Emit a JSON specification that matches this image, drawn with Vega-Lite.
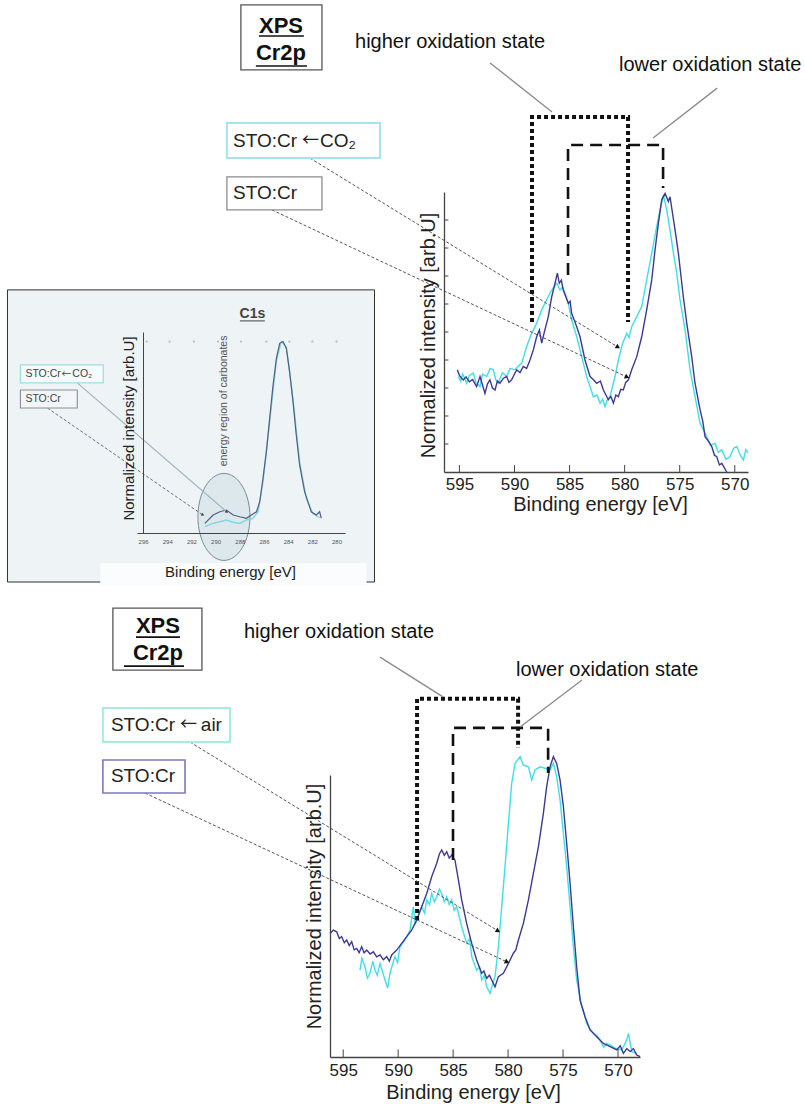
{
"$schema":"https://vega.github.io/schema/vega-lite/v6.json",
"width":805,"height":1108,"autosize":"none","padding":0,"background":"#ffffff",
"config":{"view":{"stroke":null},"font":"Liberation Sans","axis":{"grid":false,"domainColor":"#444","domainWidth":1.3,"labelColor":"#222","titleColor":"#222","titleFontWeight":"normal","labelFont":"Liberation Sans","titleFont":"Liberation Sans"}},
"datasets":{
"top_sto":[{"E":595.19,"v":3.65},{"E":595.0,"v":3.45},{"E":594.8,"v":3.35},{"E":594.65,"v":3.29},{"E":594.4,"v":3.4},{"E":594.1,"v":3.22},{"E":593.8,"v":3.3},{"E":593.44,"v":3.05},{"E":593.13,"v":3.41},{"E":592.9,"v":3.1},{"E":592.68,"v":2.81},{"E":592.45,"v":3.15},{"E":592.23,"v":3.29},{"E":592.0,"v":3.0},{"E":591.77,"v":2.93},{"E":591.55,"v":3.25},{"E":591.32,"v":3.17},{"E":591.0,"v":3.35},{"E":590.71,"v":3.41},{"E":590.5,"v":3.2},{"E":590.26,"v":3.29},{"E":590.0,"v":3.5},{"E":589.8,"v":3.65},{"E":589.5,"v":3.55},{"E":589.2,"v":3.77},{"E":588.9,"v":3.7},{"E":588.59,"v":4.0},{"E":588.29,"v":4.36},{"E":587.99,"v":4.83},{"E":587.74,"v":5.07},{"E":587.53,"v":4.6},{"E":587.32,"v":4.95},{"E":586.93,"v":5.55},{"E":586.62,"v":6.26},{"E":586.32,"v":6.74},{"E":586.11,"v":7.1},{"E":585.93,"v":6.74},{"E":585.75,"v":6.85},{"E":585.57,"v":6.5},{"E":585.11,"v":6.02},{"E":584.95,"v":6.1},{"E":584.81,"v":5.67},{"E":584.35,"v":5.19},{"E":584.05,"v":4.83},{"E":583.6,"v":4.0},{"E":583.14,"v":3.41},{"E":582.85,"v":3.3},{"E":582.54,"v":3.17},{"E":582.2,"v":3.25},{"E":581.93,"v":2.93},{"E":581.7,"v":2.75},{"E":581.48,"v":2.58},{"E":581.25,"v":2.7},{"E":581.02,"v":2.46},{"E":580.8,"v":2.75},{"E":580.57,"v":2.69},{"E":580.35,"v":2.95},{"E":580.12,"v":2.93},{"E":579.9,"v":3.2},{"E":579.66,"v":3.29},{"E":579.36,"v":3.65},{"E":578.9,"v":4.12},{"E":578.45,"v":4.83},{"E":578.0,"v":5.79},{"E":577.54,"v":6.86},{"E":577.24,"v":7.93},{"E":576.94,"v":8.88},{"E":576.63,"v":9.72},{"E":576.33,"v":9.95},{"E":576.03,"v":9.66},{"E":575.88,"v":9.83},{"E":575.42,"v":8.64},{"E":575.12,"v":7.81},{"E":574.67,"v":6.26},{"E":574.36,"v":5.31},{"E":573.91,"v":4.12},{"E":573.61,"v":3.17},{"E":573.15,"v":2.22},{"E":572.9,"v":1.8},{"E":572.7,"v":1.26},{"E":572.4,"v":1.1},{"E":572.09,"v":0.91},{"E":571.85,"v":0.6},{"E":571.64,"v":0.55},{"E":571.4,"v":0.25},{"E":571.18,"v":0.31},{"E":570.73,"v":0.0}],
"top_co2":[{"E":595.1,"v":3.41},{"E":594.9,"v":3.25},{"E":594.7,"v":3.5},{"E":594.35,"v":3.17},{"E":594.1,"v":3.45},{"E":593.74,"v":3.53},{"E":593.5,"v":3.2},{"E":593.13,"v":3.05},{"E":592.9,"v":3.5},{"E":592.53,"v":3.41},{"E":592.2,"v":3.7},{"E":591.92,"v":3.65},{"E":591.7,"v":3.3},{"E":591.47,"v":3.17},{"E":591.1,"v":3.55},{"E":590.71,"v":3.41},{"E":590.4,"v":3.7},{"E":589.96,"v":3.65},{"E":589.6,"v":3.8},{"E":589.35,"v":3.88},{"E":589.1,"v":4.2},{"E":588.9,"v":4.48},{"E":588.44,"v":4.95},{"E":587.99,"v":5.31},{"E":587.53,"v":5.79},{"E":587.08,"v":6.15},{"E":586.62,"v":6.5},{"E":586.17,"v":6.74},{"E":585.87,"v":6.5},{"E":585.65,"v":6.6},{"E":585.41,"v":6.38},{"E":585.11,"v":6.02},{"E":584.81,"v":5.43},{"E":584.35,"v":4.83},{"E":583.9,"v":4.12},{"E":583.45,"v":3.41},{"E":583.1,"v":3.0},{"E":582.84,"v":2.69},{"E":582.5,"v":2.75},{"E":582.23,"v":2.46},{"E":582.0,"v":2.6},{"E":581.78,"v":2.34},{"E":581.55,"v":2.6},{"E":581.33,"v":2.69},{"E":580.87,"v":3.41},{"E":580.57,"v":4.0},{"E":580.18,"v":4.6},{"E":579.81,"v":4.95},{"E":579.6,"v":4.8},{"E":579.36,"v":5.19},{"E":578.9,"v":5.55},{"E":578.45,"v":5.91},{"E":578.0,"v":6.86},{"E":577.54,"v":7.81},{"E":577.15,"v":8.64},{"E":576.79,"v":9.36},{"E":576.48,"v":9.9},{"E":576.18,"v":9.36},{"E":575.88,"v":8.64},{"E":575.57,"v":7.81},{"E":575.27,"v":7.1},{"E":574.97,"v":6.15},{"E":574.51,"v":5.07},{"E":574.06,"v":3.65},{"E":573.61,"v":2.69},{"E":573.15,"v":1.74},{"E":572.85,"v":1.5},{"E":572.55,"v":1.26},{"E":572.2,"v":0.95},{"E":571.79,"v":1.03},{"E":571.5,"v":0.7},{"E":571.18,"v":0.79},{"E":570.8,"v":0.45},{"E":570.43,"v":0.55},{"E":570.1,"v":0.85},{"E":569.82,"v":0.91},{"E":569.5,"v":0.6},{"E":569.22,"v":0.43},{"E":569.0,"v":0.8},{"E":568.8,"v":0.67}],
"bot_sto":[{"E":596.2,"v":4.38},{"E":595.9,"v":4.5},{"E":595.59,"v":4.44},{"E":595.35,"v":4.2},{"E":595.14,"v":4.27},{"E":594.9,"v":4.05},{"E":594.68,"v":4.15},{"E":594.45,"v":3.95},{"E":594.23,"v":4.09},{"E":594.0,"v":3.8},{"E":593.77,"v":3.85},{"E":593.55,"v":3.7},{"E":593.32,"v":3.91},{"E":593.1,"v":3.7},{"E":592.86,"v":3.79},{"E":592.55,"v":3.65},{"E":592.26,"v":3.73},{"E":591.95,"v":3.55},{"E":591.65,"v":3.62},{"E":591.35,"v":3.45},{"E":591.04,"v":3.56},{"E":590.8,"v":3.4},{"E":590.59,"v":3.62},{"E":590.13,"v":3.79},{"E":589.68,"v":4.03},{"E":589.22,"v":4.27},{"E":588.77,"v":4.5},{"E":588.31,"v":4.86},{"E":587.86,"v":5.33},{"E":587.4,"v":5.8},{"E":586.95,"v":6.39},{"E":586.49,"v":6.87},{"E":586.25,"v":7.2},{"E":586.04,"v":7.34},{"E":585.8,"v":7.15},{"E":585.58,"v":7.28},{"E":585.35,"v":7.05},{"E":585.13,"v":7.16},{"E":584.83,"v":6.98},{"E":584.52,"v":6.28},{"E":584.22,"v":5.57},{"E":583.77,"v":4.74},{"E":583.31,"v":4.03},{"E":582.86,"v":3.44},{"E":582.4,"v":2.97},{"E":582.2,"v":3.05},{"E":581.95,"v":2.79},{"E":581.7,"v":2.9},{"E":581.49,"v":2.73},{"E":581.19,"v":2.49},{"E":580.88,"v":2.85},{"E":580.43,"v":2.97},{"E":579.97,"v":3.32},{"E":579.52,"v":3.68},{"E":579.3,"v":3.8},{"E":579.06,"v":4.15},{"E":578.61,"v":4.74},{"E":578.15,"v":5.57},{"E":577.7,"v":6.51},{"E":577.24,"v":7.46},{"E":576.79,"v":8.64},{"E":576.49,"v":9.59},{"E":576.18,"v":10.29},{"E":575.88,"v":10.65},{"E":575.58,"v":10.41},{"E":575.27,"v":9.82},{"E":574.97,"v":8.88},{"E":574.67,"v":7.58},{"E":574.36,"v":6.16},{"E":574.06,"v":4.62},{"E":573.76,"v":3.2},{"E":573.45,"v":2.02},{"E":573.0,"v":1.43},{"E":572.54,"v":0.96},{"E":571.94,"v":0.72},{"E":571.33,"v":0.48},{"E":570.72,"v":0.37},{"E":570.12,"v":0.25},{"E":569.8,"v":0.4},{"E":569.51,"v":0.13},{"E":569.2,"v":0.3},{"E":568.9,"v":0.19},{"E":568.6,"v":0.3},{"E":568.3,"v":0.07},{"E":568.0,"v":0.01}],
"bot_air":[{"E":593.47,"v":3.08},{"E":593.3,"v":3.5},{"E":593.02,"v":3.2},{"E":592.8,"v":2.8},{"E":592.56,"v":2.97},{"E":592.3,"v":3.4},{"E":592.11,"v":3.08},{"E":591.9,"v":2.9},{"E":591.65,"v":3.32},{"E":591.4,"v":3.0},{"E":591.2,"v":2.73},{"E":590.95,"v":2.45},{"E":590.74,"v":2.97},{"E":590.5,"v":3.3},{"E":590.29,"v":3.56},{"E":590.05,"v":3.35},{"E":589.83,"v":3.91},{"E":589.38,"v":4.15},{"E":588.92,"v":4.5},{"E":588.62,"v":5.33},{"E":588.45,"v":4.7},{"E":588.31,"v":4.86},{"E":587.86,"v":5.33},{"E":587.6,"v":5.1},{"E":587.4,"v":5.57},{"E":587.15,"v":5.4},{"E":586.95,"v":5.8},{"E":586.7,"v":5.5},{"E":586.49,"v":5.68},{"E":586.25,"v":5.95},{"E":586.04,"v":5.8},{"E":585.8,"v":5.5},{"E":585.58,"v":5.68},{"E":585.35,"v":5.4},{"E":585.13,"v":5.57},{"E":584.9,"v":5.2},{"E":584.67,"v":5.33},{"E":584.22,"v":4.62},{"E":583.77,"v":4.03},{"E":583.5,"v":4.2},{"E":583.31,"v":3.56},{"E":582.86,"v":3.08},{"E":582.6,"v":3.2},{"E":582.4,"v":2.73},{"E":582.15,"v":2.9},{"E":581.95,"v":2.49},{"E":581.64,"v":2.26},{"E":581.4,"v":2.6},{"E":581.19,"v":2.85},{"E":580.88,"v":3.91},{"E":580.58,"v":5.33},{"E":580.28,"v":6.75},{"E":579.97,"v":8.29},{"E":579.67,"v":9.7},{"E":579.37,"v":10.41},{"E":578.91,"v":10.65},{"E":578.61,"v":10.35},{"E":578.15,"v":10.29},{"E":577.85,"v":9.82},{"E":577.55,"v":10.18},{"E":577.09,"v":10.29},{"E":576.64,"v":10.24},{"E":576.18,"v":10.18},{"E":575.88,"v":10.41},{"E":575.58,"v":9.94},{"E":575.27,"v":9.11},{"E":574.97,"v":7.93},{"E":574.67,"v":6.75},{"E":574.36,"v":5.33},{"E":574.06,"v":3.91},{"E":573.76,"v":2.73},{"E":573.3,"v":1.78},{"E":573.05,"v":1.5},{"E":572.85,"v":1.19},{"E":572.55,"v":1.0},{"E":572.24,"v":0.84},{"E":571.9,"v":0.75},{"E":571.63,"v":0.6},{"E":571.3,"v":0.35},{"E":571.03,"v":0.48},{"E":570.6,"v":0.4},{"E":570.27,"v":0.31},{"E":569.66,"v":0.25},{"E":569.21,"v":0.6},{"E":569.05,"v":0.84},{"E":568.75,"v":0.19},{"E":568.3,"v":0.13}],
"c1s_sto":[{"E":290.89,"v":0.05},{"E":290.2,"v":0.094},{"E":289.65,"v":0.111},{"E":289.1,"v":0.12},{"E":288.55,"v":0.094},{"E":288.0,"v":0.085},{"E":287.45,"v":0.077},{"E":287.04,"v":0.094},{"E":286.62,"v":0.111},{"E":286.35,"v":0.164},{"E":286.08,"v":0.286},{"E":285.8,"v":0.425},{"E":285.53,"v":0.599},{"E":285.25,"v":0.773},{"E":284.97,"v":0.913},{"E":284.7,"v":0.991},{"E":284.43,"v":1.0},{"E":284.15,"v":0.965},{"E":283.88,"v":0.843},{"E":283.6,"v":0.686},{"E":283.33,"v":0.512},{"E":283.05,"v":0.355},{"E":282.64,"v":0.216},{"E":282.09,"v":0.111},{"E":281.67,"v":0.094},{"E":281.4,"v":0.111},{"E":281.26,"v":0.077}],
"c1s_co2":[{"E":290.89,"v":0.033},{"E":290.2,"v":0.05},{"E":289.65,"v":0.059},{"E":289.1,"v":0.068},{"E":288.55,"v":0.056},{"E":288.0,"v":0.05},{"E":287.45,"v":0.068},{"E":286.9,"v":0.077},{"E":286.48,"v":0.111},{"E":286.08,"v":0.27},{"E":285.53,"v":0.58},{"E":284.97,"v":0.9},{"E":284.56,"v":1.0},{"E":284.15,"v":0.97},{"E":283.6,"v":0.7},{"E":283.05,"v":0.37},{"E":282.5,"v":0.18},{"E":281.95,"v":0.1},{"E":281.4,"v":0.08}]
},
"layer":[
{"layer":[
 {"data":{"name":"top_co2"},"mark":{"type":"line","color":"#3fdfe6","strokeWidth":1.4},
  "encoding":{
   "x":{"field":"E","type":"quantitative","scale":{"domain":[568.8,596.4],"range":[748,444],"zero":false,"nice":false},"axis":{"orient":"bottom","zindex":1,"title":"Binding energy [eV]","values":[595,590,585,580,575,570],"ticks":false,"labelFontSize":17,"titleFontSize":20,"offset":-636,"labelPadding":4,"titlePadding":2,"titleX":600}},
   "y":{"field":"v","type":"quantitative","scale":{"domain":[0,10],"range":[472,192],"zero":false,"nice":false},"axis":{"orient":"left","zindex":1,"title":"Normalized intensity [arb.U]","labels":false,"ticks":false,"titleFontSize":20,"offset":-444,"titlePadding":6,"titleY":335}}}},
 {"data":{"name":"top_sto"},"mark":{"type":"line","color":"#3c3a92","strokeWidth":1.4},"encoding":{"x":{"field":"E","type":"quantitative"},"y":{"field":"v","type":"quantitative"}}},
 {"data":{"values":[{"v":1},{"v":2},{"v":3},{"v":4},{"v":5},{"v":6},{"v":7},{"v":8},{"v":9}]},"mark":{"type":"rule","color":"#444","strokeWidth":1},"encoding":{"x":{"datum":596.4,"type":"quantitative"},"x2":{"datum":596.0},"y":{"field":"v","type":"quantitative"}}},
 {"data":{"values":[{"E":595},{"E":590},{"E":585},{"E":580},{"E":575},{"E":570}]},"mark":{"type":"rule","color":"#444","strokeWidth":1},"encoding":{"x":{"field":"E","type":"quantitative"},"y":{"datum":0,"type":"quantitative"},"y2":{"datum":0.25}}},
 {"data":{"values":[{"i":1,"E":588.41,"v":5.36},{"i":2,"E":588.41,"v":12.68},{"i":3,"E":579.69,"v":12.68},{"i":4,"E":579.69,"v":5.36}]},"mark":{"type":"line","color":"#111","strokeWidth":4,"strokeDash":[4,3],"strokeCap":"butt"},"encoding":{"x":{"field":"E","type":"quantitative"},"y":{"field":"v","type":"quantitative"},"order":{"field":"i"}}},
 {"data":{"values":[{"i":1,"E":585.14,"v":7.04},{"i":2,"E":585.14,"v":11.68},{"i":3,"E":576.51,"v":11.68},{"i":4,"E":576.51,"v":10.14}]},"mark":{"type":"line","color":"#111","strokeWidth":2.6,"strokeDash":[12,7],"strokeCap":"butt"},"encoding":{"x":{"field":"E","type":"quantitative"},"y":{"field":"v","type":"quantitative"},"order":{"field":"i"}}},
 {"data":{"values":[{"E":592.22,"v":14.61,"E2":586.59,"v2":12.86},{"E":571.6,"v":13.71,"E2":577.42,"v2":11.93}]},"mark":{"type":"rule","color":"#8a8a8a","strokeWidth":1.3},"encoding":{"x":{"field":"E","type":"quantitative"},"y":{"field":"v","type":"quantitative"},"x2":{"field":"E2"},"y2":{"field":"v2"}}},
 {"data":{"values":[{"E":608.57,"v":11.21,"E2":580.6,"v2":4.46},{"E":612.02,"v":9.36,"E2":579.78,"v2":3.39}]},"mark":{"type":"rule","color":"#555","strokeWidth":1,"strokeDash":[3,2]},"encoding":{"x":{"field":"E","type":"quantitative"},"y":{"field":"v","type":"quantitative"},"x2":{"field":"E2"},"y2":{"field":"v2"}}},
 {"data":{"values":[{"E":580.6,"v":4.46}]},"mark":{"type":"point","shape":"triangle-up","filled":true,"color":"#111","opacity":1,"size":28,"angle":121.5},"encoding":{"x":{"field":"E","type":"quantitative"},"y":{"field":"v","type":"quantitative"}}},
 {"data":{"values":[{"E":579.78,"v":3.39}]},"mark":{"type":"point","shape":"triangle-up","filled":true,"color":"#111","opacity":1,"size":28,"angle":115},"encoding":{"x":{"field":"E","type":"quantitative"},"y":{"field":"v","type":"quantitative"}}},
 {"data":{"values":[{"E":614.84,"v":16.68,"E2":607.48,"v2":14.36}]},"mark":{"type":"rect","fill":"#ffffff","stroke":"#555","strokeWidth":1.3},"encoding":{"x":{"field":"E","type":"quantitative"},"y":{"field":"v","type":"quantitative"},"x2":{"field":"E2"},"y2":{"field":"v2"}}},
 {"data":{"values":[{"E":616.11,"v":12.46,"E2":602.21,"v2":11.21}]},"mark":{"type":"rect","fill":"#ffffff","stroke":"#a6e3ea","strokeWidth":2},"encoding":{"x":{"field":"E","type":"quantitative"},"y":{"field":"v","type":"quantitative"},"x2":{"field":"E2"},"y2":{"field":"v2"}}},
 {"data":{"values":[{"E":616.11,"v":10.54,"E2":607.48,"v2":9.36}]},"mark":{"type":"rect","fill":"#ffffff","stroke":"#8c8c8c","strokeWidth":1.3},"encoding":{"x":{"field":"E","type":"quantitative"},"y":{"field":"v","type":"quantitative"},"x2":{"field":"E2"},"y2":{"field":"v2"}}},
 {"data":{"values":[{"E":611.2,"v":15.68,"t":"XPS"},{"E":611.2,"v":14.71,"t":"Cr2p"}]},"mark":{"type":"text","fontSize":22,"fontWeight":"bold","align":"center","baseline":"alphabetic","color":"#111"},"encoding":{"x":{"field":"E","type":"quantitative"},"y":{"field":"v","type":"quantitative"},"text":{"field":"t"}}},
 {"data":{"values":[{"E":613.2,"v":15.57,"E2":609.12},{"E":613.48,"v":14.5,"E2":608.84}]},"mark":{"type":"rule","color":"#111","strokeWidth":1.6},"encoding":{"x":{"field":"E","type":"quantitative"},"y":{"field":"v","type":"quantitative"},"x2":{"field":"E2"}}},
 {"data":{"values":[{"E":604.48,"v":15.36,"t":"higher oxidation state"},{"E":580.51,"v":14.54,"t":"lower oxidation state"}]},"mark":{"type":"text","fontSize":20,"align":"left","baseline":"middle","color":"#111"},"encoding":{"x":{"field":"E","type":"quantitative"},"y":{"field":"v","type":"quantitative"},"text":{"field":"t"}}},
 {"data":{"values":[{"E":615.56,"v":11.83,"t":"STO:Cr"},{"E":607.66,"v":11.83,"t":"CO₂"},{"E":615.56,"v":9.96,"t":"STO:Cr"}]},"mark":{"type":"text","fontSize":19,"align":"left","baseline":"middle","color":"#222"},"encoding":{"x":{"field":"E","type":"quantitative"},"y":{"field":"v","type":"quantitative"},"text":{"field":"t"}}},
 {"data":{"values":[{"E":609.3,"v":11.83,"t":"←"}]},"mark":{"type":"text","font":"Noto Sans CJK SC","fontSize":17,"align":"left","baseline":"middle","color":"#222"},"encoding":{"x":{"field":"E","type":"quantitative"},"y":{"field":"v","type":"quantitative"},"text":{"field":"t"}}}
]},
{"layer":[
 {"data":{"values":[{"E":307.21,"v":1.27,"E2":276.86,"v2":-0.256}]},"mark":{"type":"rect","fill":"#eef3f6","stroke":"#333","strokeWidth":1},
  "encoding":{"x":{"field":"E","type":"quantitative","scale":{"domain":[279.3,296.5],"range":[345,137],"zero":false,"nice":false}},"y":{"field":"v","type":"quantitative","scale":{"domain":[0,1.05],"range":[533,332],"zero":false,"nice":false}},"x2":{"field":"E2"},"y2":{"field":"v2"}}},
 {"data":{"values":[{"E":299.54,"v":-0.157,"E2":277.52,"v2":-0.275}]},"mark":{"type":"rect","fill":"#fbfcfd"},"encoding":{"x":{"field":"E","type":"quantitative"},"y":{"field":"v","type":"quantitative"},"x2":{"field":"E2"},"y2":{"field":"v2"}}},
 {"data":{"values":[{"E":289.31,"v":0.084}]},"mark":{"type":"point","shape":"M -0.598 0 A 0.598 1 0 1 0 0.598 0 A 0.598 1 0 1 0 -0.598 0 Z","filled":true,"fill":"#c8dce2","fillOpacity":0.45,"stroke":"#7c8c92","strokeWidth":1,"opacity":1,"size":7569},"encoding":{"x":{"field":"E","type":"quantitative"},"y":{"field":"v","type":"quantitative"}}},
 {"data":{"values":[{"E":295.7},{"E":293.8},{"E":291.8},{"E":289.8},{"E":287.9},{"E":285.8},{"E":283.9},{"E":282.0},{"E":280.0}]},"mark":{"type":"point","filled":true,"color":"#b8bcc0","opacity":1,"size":5},"encoding":{"x":{"field":"E","type":"quantitative"},"y":{"datum":1.0,"type":"quantitative"}}},
 {"data":{"name":"c1s_co2"},"mark":{"type":"line","color":"#86d6df","strokeWidth":1.4},
  "encoding":{"x":{"field":"E","type":"quantitative","axis":{"orient":"bottom","zindex":1,"title":"Binding energy [eV]","values":[296,294,292,290,288,286,284,282,280],"ticks":false,"labelFontSize":6,"labelColor":"#555","titleFontSize":15,"offset":-575,"labelPadding":5,"titlePadding":20,"titleX":230,"domainWidth":1}},
   "y":{"field":"v","type":"quantitative","axis":{"orient":"left","zindex":1,"title":"Normalized intensity [arb.U]","labels":false,"ticks":false,"titleFontSize":15,"offset":-143,"titlePadding":7,"titleY":428,"domainWidth":1}}}},
 {"data":{"name":"c1s_sto"},"mark":{"type":"line","color":"#4f6080","strokeWidth":1.2},"encoding":{"x":{"field":"E","type":"quantitative"},"y":{"field":"v","type":"quantitative"}}},
 {"data":{"values":[{"E":301.44,"v":0.784,"E2":289.07,"v2":0.11}]},"mark":{"type":"rule","color":"#9fb4c0","strokeWidth":1.2},"encoding":{"x":{"field":"E","type":"quantitative"},"y":{"field":"v","type":"quantitative"},"x2":{"field":"E2"},"y2":{"field":"v2"}}},
 {"data":{"values":[{"E":303.91,"v":0.653,"E2":291.05,"v2":0.094}]},"mark":{"type":"rule","color":"#6a7078","strokeWidth":1,"strokeDash":[3,2]},"encoding":{"x":{"field":"E","type":"quantitative"},"y":{"field":"v","type":"quantitative"},"x2":{"field":"E2"},"y2":{"field":"v2"}}},
 {"data":{"values":[{"E":289.07,"v":0.11}]},"mark":{"type":"point","shape":"triangle-up","filled":true,"color":"#445","opacity":1,"size":12,"angle":130.7},"encoding":{"x":{"field":"E","type":"quantitative"},"y":{"field":"v","type":"quantitative"}}},
 {"data":{"values":[{"E":291.05,"v":0.094}]},"mark":{"type":"point","shape":"triangle-up","filled":true,"color":"#445","opacity":1,"size":12,"angle":124.4},"encoding":{"x":{"field":"E","type":"quantitative"},"y":{"field":"v","type":"quantitative"}}},
 {"data":{"values":[{"E":306.14,"v":0.878,"E2":299.29,"v2":0.784}]},"mark":{"type":"rect","fill":"#f4fbfc","stroke":"#9fdde3","strokeWidth":1.3},"encoding":{"x":{"field":"E","type":"quantitative"},"y":{"field":"v","type":"quantitative"},"x2":{"field":"E2"},"y2":{"field":"v2"}}},
 {"data":{"values":[{"E":306.14,"v":0.747,"E2":301.44,"v2":0.653}]},"mark":{"type":"rect","fill":"#f3f6f8","stroke":"#8a8f94","strokeWidth":1.1},"encoding":{"x":{"field":"E","type":"quantitative"},"y":{"field":"v","type":"quantitative"},"x2":{"field":"E2"},"y2":{"field":"v2"}}},
 {"data":{"values":[{"E":305.73,"v":0.831,"t":"STO:Cr"},{"E":301.85,"v":0.831,"t":"CO₂"},{"E":305.73,"v":0.70,"t":"STO:Cr"}]},"mark":{"type":"text","fontSize":10.5,"align":"left","baseline":"middle","color":"#444"},"encoding":{"x":{"field":"E","type":"quantitative"},"y":{"field":"v","type":"quantitative"},"text":{"field":"t"}}},
 {"data":{"values":[{"E":302.75,"v":0.831,"t":"←"}]},"mark":{"type":"text","font":"Noto Sans CJK SC","fontSize":9.5,"align":"left","baseline":"middle","color":"#444"},"encoding":{"x":{"field":"E","type":"quantitative"},"y":{"field":"v","type":"quantitative"},"text":{"field":"t"}}},
 {"data":{"values":[{"E":289.31,"v":0.69,"t":"energy region of carbonates"}]},"mark":{"type":"text","fontSize":10.5,"angle":270,"align":"center","baseline":"middle","color":"#555"},"encoding":{"x":{"field":"E","type":"quantitative"},"y":{"field":"v","type":"quantitative"},"text":{"field":"t"}}},
 {"data":{"values":[{"E":286.96,"v":1.123,"t":"C1s"}]},"mark":{"type":"text","fontSize":14,"fontWeight":"bold","align":"center","baseline":"alphabetic","color":"#444"},"encoding":{"x":{"field":"E","type":"quantitative"},"y":{"field":"v","type":"quantitative"},"text":{"field":"t"}}},
 {"data":{"values":[{"E":287.99,"v":1.108,"E2":285.93}]},"mark":{"type":"rule","color":"#444","strokeWidth":1},"encoding":{"x":{"field":"E","type":"quantitative"},"y":{"field":"v","type":"quantitative"},"x2":{"field":"E2"}}}
]},
{"layer":[
 {"data":{"name":"bot_air"},"mark":{"type":"line","color":"#3fdfe6","strokeWidth":1.4},
  "encoding":{
   "x":{"field":"E","type":"quantitative","scale":{"domain":[568.0,596.2],"range":[640,330],"zero":false,"nice":false},"axis":{"orient":"bottom","zindex":1,"title":"Binding energy [eV]","values":[595,590,585,580,575,570],"ticks":false,"labelFontSize":17,"titleFontSize":20,"offset":-51,"labelPadding":5,"titlePadding":4,"titleX":473}},
   "y":{"field":"v","type":"quantitative","scale":{"domain":[0,10],"range":[1057,775],"zero":false,"nice":false},"axis":{"orient":"left","zindex":1,"title":"Normalized intensity [arb.U]","labels":false,"ticks":false,"titleFontSize":20,"offset":-330,"titlePadding":6,"titleY":906}}}},
 {"data":{"name":"bot_sto"},"mark":{"type":"line","color":"#3c3a92","strokeWidth":1.4},"encoding":{"x":{"field":"E","type":"quantitative"},"y":{"field":"v","type":"quantitative"}}},
 {"data":{"values":[{"E":595},{"E":590},{"E":585},{"E":580},{"E":575},{"E":570}]},"mark":{"type":"rule","color":"#444","strokeWidth":1},"encoding":{"x":{"field":"E","type":"quantitative"},"y":{"datum":0,"type":"quantitative"},"y2":{"datum":0.27}}},
 {"data":{"values":[{"i":1,"E":588.28,"v":4.86},{"i":2,"E":588.28,"v":12.7},{"i":3,"E":579.09,"v":12.7},{"i":4,"E":579.09,"v":10.96}]},"mark":{"type":"line","color":"#111","strokeWidth":4,"strokeDash":[4,3],"strokeCap":"butt"},"encoding":{"x":{"field":"E","type":"quantitative"},"y":{"field":"v","type":"quantitative"},"order":{"field":"i"}}},
 {"data":{"values":[{"i":1,"E":585.01,"v":6.99},{"i":2,"E":585.01,"v":11.67},{"i":3,"E":576.36,"v":11.67},{"i":4,"E":576.36,"v":10.07}]},"mark":{"type":"line","color":"#111","strokeWidth":2.6,"strokeDash":[12,7],"strokeCap":"butt"},"encoding":{"x":{"field":"E","type":"quantitative"},"y":{"field":"v","type":"quantitative"},"order":{"field":"i"}}},
 {"data":{"values":[{"E":591.65,"v":14.18,"E2":585.92,"v2":12.77},{"E":573.27,"v":13.37,"E2":578.91,"v2":11.7}]},"mark":{"type":"rule","color":"#8a8a8a","strokeWidth":1.3},"encoding":{"x":{"field":"E","type":"quantitative"},"y":{"field":"v","type":"quantitative"},"x2":{"field":"E2"},"y2":{"field":"v2"}}},
 {"data":{"values":[{"E":608.94,"v":11.17,"E2":580.91,"v2":4.47},{"E":613.03,"v":9.36,"E2":580.09,"v2":3.37}]},"mark":{"type":"rule","color":"#555","strokeWidth":1,"strokeDash":[3,2]},"encoding":{"x":{"field":"E","type":"quantitative"},"y":{"field":"v","type":"quantitative"},"x2":{"field":"E2"},"y2":{"field":"v2"}}},
 {"data":{"values":[{"E":580.91,"v":4.47}]},"mark":{"type":"point","shape":"triangle-up","filled":true,"color":"#111","opacity":1,"size":28,"angle":121.5},"encoding":{"x":{"field":"E","type":"quantitative"},"y":{"field":"v","type":"quantitative"}}},
 {"data":{"values":[{"E":580.09,"v":3.37}]},"mark":{"type":"point","shape":"triangle-up","filled":true,"color":"#111","opacity":1,"size":28,"angle":115},"encoding":{"x":{"field":"E","type":"quantitative"},"y":{"field":"v","type":"quantitative"}}},
 {"data":{"values":[{"E":615.95,"v":15.92,"E2":607.85,"v2":13.72}]},"mark":{"type":"rect","fill":"#ffffff","stroke":"#555","strokeWidth":1.3},"encoding":{"x":{"field":"E","type":"quantitative"},"y":{"field":"v","type":"quantitative"},"x2":{"field":"E2"},"y2":{"field":"v2"}}},
 {"data":{"values":[{"E":616.86,"v":12.38,"E2":605.3,"v2":11.17}]},"mark":{"type":"rect","fill":"#ffffff","stroke":"#a8ece0","strokeWidth":2},"encoding":{"x":{"field":"E","type":"quantitative"},"y":{"field":"v","type":"quantitative"},"x2":{"field":"E2"},"y2":{"field":"v2"}}},
 {"data":{"values":[{"E":616.86,"v":10.53,"E2":609.39,"v2":9.36}]},"mark":{"type":"rect","fill":"#ffffff","stroke":"#7b78c0","strokeWidth":1.6},"encoding":{"x":{"field":"E","type":"quantitative"},"y":{"field":"v","type":"quantitative"},"x2":{"field":"E2"},"y2":{"field":"v2"}}},
 {"data":{"values":[{"E":611.85,"v":15.04,"t":"XPS"},{"E":611.85,"v":14.08,"t":"Cr2p"}]},"mark":{"type":"text","fontSize":22,"fontWeight":"bold","align":"center","baseline":"alphabetic","color":"#111"},"encoding":{"x":{"field":"E","type":"quantitative"},"y":{"field":"v","type":"quantitative"},"text":{"field":"t"}}},
 {"data":{"values":[{"E":613.85,"v":14.89,"E2":609.85},{"E":614.94,"v":13.86,"E2":609.48}]},"mark":{"type":"rule","color":"#111","strokeWidth":1.6},"encoding":{"x":{"field":"E","type":"quantitative"},"y":{"field":"v","type":"quantitative"},"x2":{"field":"E2"}}},
 {"data":{"values":[{"E":604.03,"v":15.07,"t":"higher oxidation state"},{"E":579.28,"v":13.72,"t":"lower oxidation state"}]},"mark":{"type":"text","fontSize":20,"align":"left","baseline":"middle","color":"#111"},"encoding":{"x":{"field":"E","type":"quantitative"},"y":{"field":"v","type":"quantitative"},"text":{"field":"t"}}},
 {"data":{"values":[{"E":616.13,"v":11.79,"t":"STO:Cr"},{"E":607.95,"v":11.79,"t":"air"},{"E":616.13,"v":9.95,"t":"STO:Cr"}]},"mark":{"type":"text","fontSize":19,"align":"left","baseline":"middle","color":"#222"},"encoding":{"x":{"field":"E","type":"quantitative"},"y":{"field":"v","type":"quantitative"},"text":{"field":"t"}}},
 {"data":{"values":[{"E":609.85,"v":11.79,"t":"←"}]},"mark":{"type":"text","font":"Noto Sans CJK SC","fontSize":17,"align":"left","baseline":"middle","color":"#222"},"encoding":{"x":{"field":"E","type":"quantitative"},"y":{"field":"v","type":"quantitative"},"text":{"field":"t"}}}
]}
],
"resolve":{"scale":{"x":"independent","y":"independent"},"axis":{"x":"independent","y":"independent"}}
}
